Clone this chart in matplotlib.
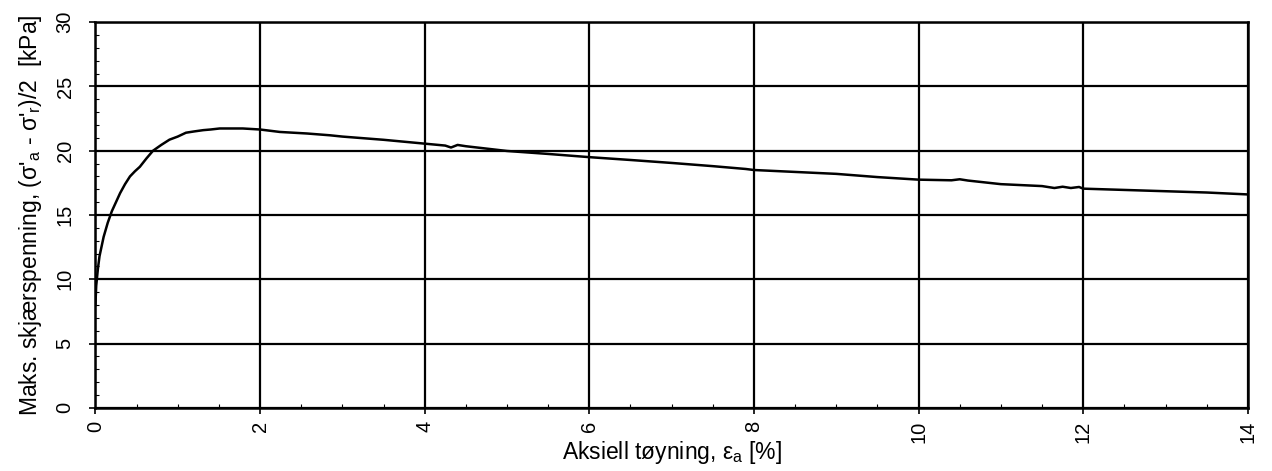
import matplotlib.pyplot as plt
from matplotlib.ticker import MultipleLocator

plt.rcParams['font.family'] = ['Liberation Sans', 'DejaVu Sans']
plt.rcParams['mathtext.default'] = 'regular'

# aksiell tøyning [%] og maks. skjærspenning [kPa]
toyning = [0.0, 0.01, 0.03, 0.05, 0.10, 0.15, 0.20, 0.25, 0.30, 0.36, 0.42,
           0.48, 0.54, 0.62, 0.70, 0.80, 0.90, 1.0, 1.10, 1.20, 1.31, 1.40,
           1.51, 1.79, 2.0, 2.24, 2.57, 2.85, 3.0, 3.5, 4.0, 4.25, 4.32,
           4.4, 4.5, 5.0, 5.5, 6.0, 6.5, 7.0, 7.5, 7.9, 8.0, 8.5, 9.0, 9.5,
           10.0, 10.4, 10.5, 10.6, 11.0, 11.5, 11.65, 11.75, 11.85, 11.95,
           12.0, 12.5, 13.0, 13.5, 14.0]
skjaer = [8.0, 9.5, 10.8, 11.8, 13.3, 14.4, 15.3, 16.0, 16.7, 17.4, 18.0,
          18.4, 18.75, 19.4, 20.0, 20.45, 20.86, 21.1, 21.4, 21.5, 21.6, 21.65,
          21.73, 21.73, 21.65, 21.46, 21.34, 21.2, 21.1, 20.85, 20.55,
          20.4, 20.25, 20.45, 20.35, 19.98, 19.75, 19.5, 19.28, 19.05, 18.8,
          18.58, 18.5, 18.35, 18.2, 17.95, 17.75, 17.7, 17.78, 17.68, 17.4,
          17.25, 17.1, 17.2, 17.1, 17.18, 17.05, 16.95, 16.85, 16.75, 16.6]

fig = plt.figure(figsize=(12.72, 4.71), dpi=100)
ax = fig.add_axes([0.075, 0.134, 0.906, 0.819])

ax.plot(toyning, skjaer, color='black', lw=1.8)

ax.set_xlim(0, 14)
ax.set_ylim(0, 30)
ax.xaxis.set_major_locator(MultipleLocator(2))
ax.xaxis.set_minor_locator(MultipleLocator(0.5))
ax.yaxis.set_major_locator(MultipleLocator(5))
ax.yaxis.set_minor_locator(MultipleLocator(1))
ax.grid(which='major', color='black', lw=1.6)
ax.set_axisbelow(True)

ax.tick_params(which='major', direction='out', length=4, width=1.2,
               labelsize=14.5)
ax.tick_params(axis='x', which='major', pad=5)
ax.tick_params(axis='y', which='major', pad=11)
ax.tick_params(which='minor', direction='in', length=3, width=0.8)
plt.setp(ax.get_xticklabels(), rotation=90)
plt.setp(ax.get_yticklabels(), rotation=90, va='center')
for s in ax.spines.values():
    s.set_linewidth(1.8)

ax.set_xlabel('Aksiell tøyning, ε$_a$ [%]', fontsize=16.5, labelpad=-3)
ax.set_ylabel("Maks. skjærspenning, (σ'$_a$ - σ'$_r$)/2  [kPa]", fontsize=16.5,
              labelpad=8)

fig.savefig('out.png', dpi=100)
